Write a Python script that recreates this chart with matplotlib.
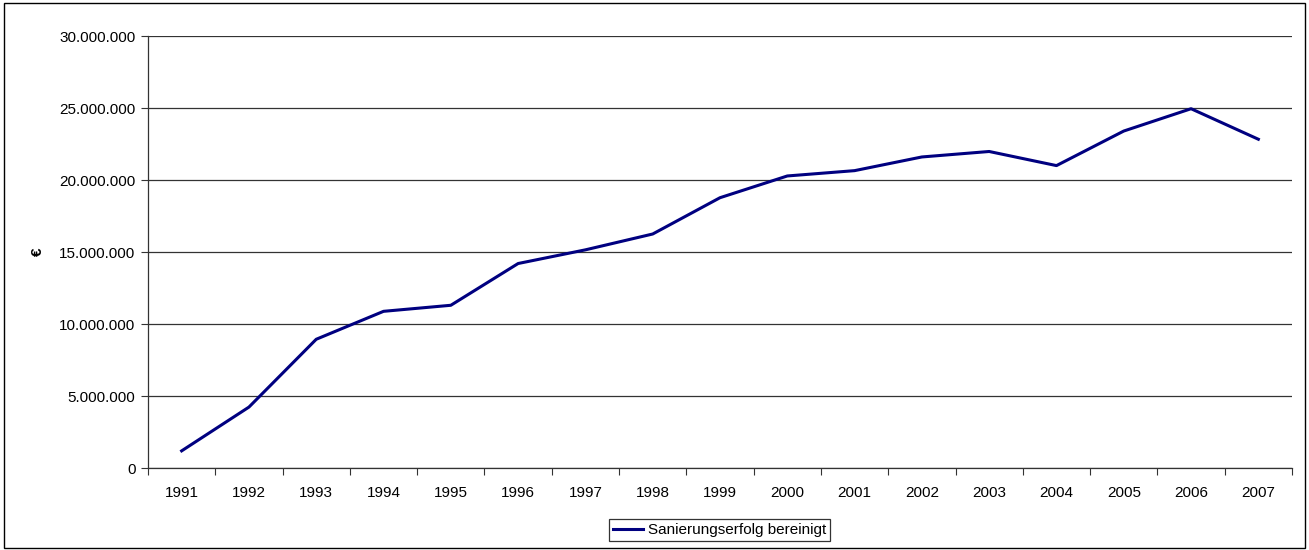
import matplotlib.pyplot as plt
from matplotlib.patches import Rectangle
from matplotlib.ticker import FuncFormatter, FixedLocator

plt.rcParams['font.family'] = ['Liberation Sans', 'DejaVu Sans']

# Daten
jahre = ["1991", "1992", "1993", "1994", "1995", "1996", "1997", "1998", "1999",
         "2000", "2001", "2002", "2003", "2004", "2005", "2006", "2007"]
sanierungserfolg = [1190000, 4230000, 8940000, 10880000, 11300000, 14200000, 15150000,
                    16250000, 18770000, 20280000, 20650000, 21600000, 21980000,
                    21000000, 23400000, 24950000, 22830000]

fig = plt.figure(figsize=(13.09, 5.5), dpi=100)
ax = fig.add_axes([148 / 1309, 82 / 550, 1144 / 1309, 432 / 550])

x = list(range(len(jahre)))
ax.plot(x, sanierungserfolg, color="#000080", lw=2.2, label="Sanierungserfolg bereinigt")

ax.set_xlim(-0.5, len(jahre) - 0.5)
ax.set_ylim(0, 30000000)
ax.set_yticks(range(0, 30000001, 5000000))
ax.yaxis.set_major_formatter(FuncFormatter(lambda v, p: f"{int(v):,}".replace(",", ".")))
ax.yaxis.grid(True, color="#333333", lw=0.9)
ax.set_axisbelow(True)

ax.set_xticks(x)
ax.set_xticklabels(jahre)
ax.tick_params(axis="x", which="major", length=0, pad=13, labelsize=11)
ax.xaxis.set_minor_locator(FixedLocator([i - 0.5 for i in range(len(jahre) + 1)]))
ax.tick_params(axis="x", which="minor", length=5, width=0.8, color="#333333")
ax.tick_params(axis="y", length=5, width=0.8, color="#333333", labelsize=11, pad=4)

for s in ["top", "right"]:
    ax.spines[s].set_visible(False)
for s in ["left", "bottom"]:
    ax.spines[s].set_color("#333333")
    ax.spines[s].set_linewidth(0.9)

ax.set_ylabel("€", fontsize=11, fontweight="bold", labelpad=10)

leg = fig.legend(loc="center", bbox_to_anchor=(719.5 / 1309, 1 - 530 / 550), frameon=True,
                 fancybox=False, edgecolor="black", fontsize=11, handlelength=2.0,
                 handletextpad=0.3, borderpad=0.25, borderaxespad=0)
leg.get_frame().set_linewidth(0.9)

fig.patches.append(Rectangle((4 / 1309, 2 / 550), 1301 / 1309, 545 / 550, transform=fig.transFigure,
                             fill=False, edgecolor="black", lw=1))

plt.savefig("out.png", dpi=100)
